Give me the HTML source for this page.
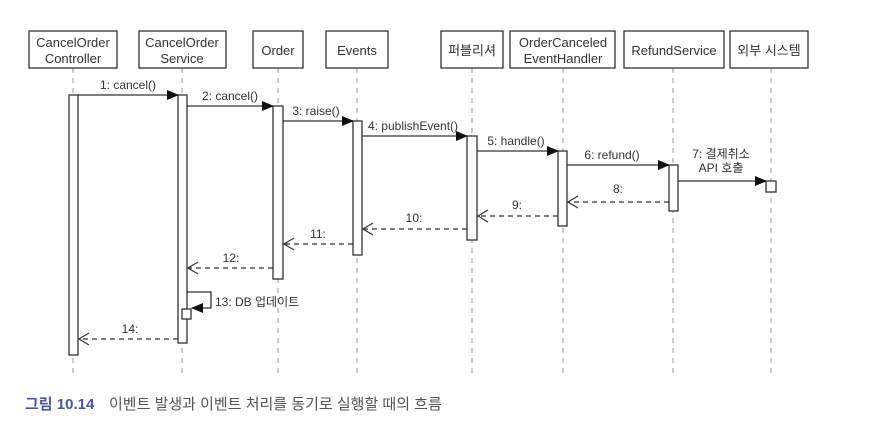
<!DOCTYPE html>
<html><head><meta charset="utf-8"><style>
html,body{margin:0;padding:0;background:#fff;}
svg{display:block;}
text{font-family:"Liberation Sans","Noto Sans CJK KR",sans-serif;fill:#333;}
</style></head><body>
<svg width="870" height="436" viewBox="0 0 870 436" xmlns="http://www.w3.org/2000/svg">
<defs>
<marker id="f" markerWidth="12" markerHeight="10" refX="11" refY="5" orient="auto" markerUnits="userSpaceOnUse"><path d="M0,0 L12,5 L0,10 Z" fill="#111"/></marker>
<marker id="o" markerWidth="12" markerHeight="14" refX="11" refY="7" orient="auto" markerUnits="userSpaceOnUse"><path d="M1,1 L11,7 L1,13" fill="none" stroke="#333" stroke-width="1.2" stroke-dasharray="none"/></marker>
</defs>
<g stroke="#999" stroke-width="1" stroke-dasharray="5,5" fill="none">
<line x1="73" y1="68" x2="73" y2="378"/>
<line x1="182" y1="68" x2="182" y2="378"/>
<line x1="278" y1="68" x2="278" y2="378"/>
<line x1="357" y1="68" x2="357" y2="378"/>
<line x1="472" y1="68" x2="472" y2="378"/>
<line x1="563" y1="68" x2="563" y2="378"/>
<line x1="673" y1="68" x2="673" y2="378"/>
<line x1="771" y1="68" x2="771" y2="378"/>
</g>
<g stroke="#333" stroke-width="1.3" fill="#fff">
<rect x="29" y="31" width="88" height="37"/>
<rect x="139" y="31" width="87" height="37"/>
<rect x="253" y="31" width="50" height="37"/>
<rect x="326" y="31" width="62" height="37"/>
<rect x="441" y="31" width="62" height="37"/>
<rect x="510" y="31" width="105" height="37"/>
<rect x="624" y="31" width="100" height="37"/>
<rect x="730" y="31" width="78" height="37"/>
</g>
<g font-size="13" text-anchor="middle">
<text x="73" y="47">CancelOrder</text><text x="73" y="63">Controller</text>
<text x="182" y="47">CancelOrder</text><text x="182" y="63">Service</text>
<text x="278" y="55">Order</text>
<text x="357" y="55">Events</text>
<text x="472" y="55">퍼블리셔</text>
<text x="563" y="47">OrderCanceled</text><text x="563" y="63">EventHandler</text>
<text x="674" y="55">RefundService</text>
<text x="769" y="55">외부 시스템</text>
</g>
<g stroke="#333" stroke-width="1.3" fill="#fff">
<rect x="69" y="95" width="9" height="260"/>
<rect x="178" y="95" width="9" height="248"/>
<rect x="273" y="106" width="10" height="173"/>
<rect x="353" y="121" width="9" height="134"/>
<rect x="467" y="136" width="10" height="104"/>
<rect x="558" y="151" width="9" height="75"/>
<rect x="669" y="165" width="9" height="46"/>
<rect x="766" y="181" width="10" height="11"/>
<rect x="182" y="309" width="9" height="10"/>
</g>
<g stroke="#333" stroke-width="1.3" fill="none">
<line x1="78" y1="95" x2="178" y2="95" marker-end="url(#f)"/>
<line x1="187" y1="106" x2="273" y2="106" marker-end="url(#f)"/>
<line x1="283" y1="121" x2="353" y2="121" marker-end="url(#f)"/>
<line x1="362" y1="136" x2="467" y2="136" marker-end="url(#f)"/>
<line x1="477" y1="151" x2="558" y2="151" marker-end="url(#f)"/>
<line x1="567" y1="165" x2="669" y2="165" marker-end="url(#f)"/>
<line x1="678" y1="181" x2="766" y2="181" marker-end="url(#f)"/>
<polyline points="187,292 211,292 211,308 192,308" marker-end="url(#f)"/>
</g>
<g stroke="#333" stroke-width="1.3" fill="none" stroke-dasharray="5,4">
<line x1="669" y1="202" x2="568" y2="202" marker-end="url(#o)"/>
<line x1="558" y1="216" x2="478" y2="216" marker-end="url(#o)"/>
<line x1="467" y1="229" x2="363" y2="229" marker-end="url(#o)"/>
<line x1="353" y1="244" x2="284" y2="244" marker-end="url(#o)"/>
<line x1="273" y1="268" x2="188" y2="268" marker-end="url(#o)"/>
<line x1="178" y1="339" x2="79" y2="339" marker-end="url(#o)"/>
</g>
<g font-size="12" text-anchor="middle">
<text x="128" y="89">1: cancel()</text>
<text x="230" y="100">2: cancel()</text>
<text x="316" y="115">3: raise()</text>
<text x="413" y="130">4: publishEvent()</text>
<text x="516" y="145">5: handle()</text>
<text x="612" y="159">6: refund()</text>
<text x="721" y="158">7: 결제취소</text>
<text x="721" y="172">API 호출</text>
<text x="618" y="193">8:</text>
<text x="517" y="209">9:</text>
<text x="414" y="222">10:</text>
<text x="318" y="238">11:</text>
<text x="231" y="262">12:</text>
<text x="130" y="333">14:</text>
<text x="215" y="306" text-anchor="start">13: DB 업데이트</text>
</g>
<text x="25" y="409" font-size="15" style="fill:#4a55a2;font-weight:bold">그림 10.14</text>
<text x="109" y="409" font-size="15" style="fill:#555">이벤트 발생과 이벤트 처리를 동기로 실행할 때의 흐름</text>
</svg>
</body></html>
